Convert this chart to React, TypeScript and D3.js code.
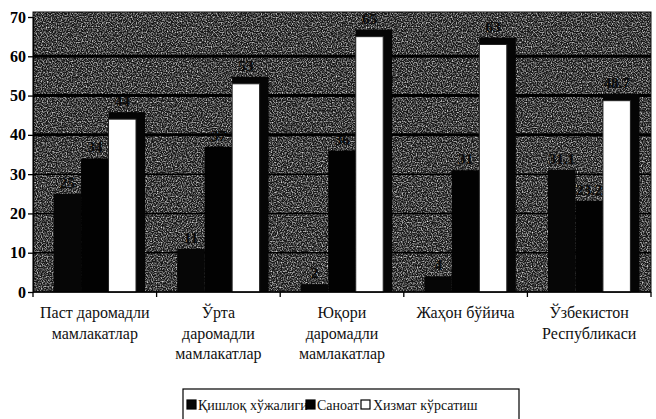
import { useEffect, useRef } from 'react';
import * as d3 from 'd3';

// Categories (each one split into the lines printed under the axis)
const categoryLines: string[][] = [
  ['Паст даромадли', 'мамлакатлар'],
  ['Ўрта', 'даромадли', 'мамлакатлар'],
  ['Юқори', 'даромадли', 'мамлакатлар'],
  ['Жаҳон бўйича'],
  ['Ўзбекистон', 'Республикаси'],
];
const categories = categoryLines.map(l => l.join(' '));

const seriesNames = ['Қишлоқ хўжалиги', 'Саноат', 'Хизмат кўрсатиш'];

// values, per category
const agriculture = [25, 11, 2, 4, 31.1];
const industry = [34, 37, 36, 31, 23.2];
const services = [44, 53, 65, 63, 48.7];

const yTicks = [0, 10, 20, 30, 40, 50, 60, 70];

const serif = '"Liberation Serif", "Times New Roman", "DejaVu Serif", serif';

export default function App() {
  const width = 656;
  const height = 419;
  const marginLeft = 33;
  const marginRight = 5;
  const marginTop = 17;
  const baseline = 292;

  const seriesValues = [agriculture, industry, services];
  const rows = categories.map((c, i) => ({
    name: c,
    values: seriesNames.map((s, j) => ({ key: s, value: seriesValues[j][i] })),
  }));

  const x = d3.scaleBand<string>()
    .domain(categories)
    .range([marginLeft, width - marginRight])
    .paddingInner(0)
    .paddingOuter(0);

  // Excel-ish gap width of 150%: 0.75 bar on each side
  const x1 = d3.scaleBand<string>()
    .domain(seriesNames)
    .range([0, x.bandwidth()])
    .paddingInner(0)
    .paddingOuter(0.75);

  const y = d3.scaleLinear()
    .domain([0, 70])
    .range([baseline, marginTop]);

  const fills = ['#060606', '#020202', '#ffffff'];

  const gy = useRef<SVGGElement>(null);

  useEffect(() => {
    if (gy.current) {
      const g = d3.select(gy.current);
      g.call(d3.axisLeft(y).tickValues(yTicks).tickSize(5).tickSizeOuter(0).tickPadding(2));
      g.select('.domain').attr('stroke', '#000').attr('stroke-width', 1.3);
      g.selectAll('.tick line').attr('stroke', '#000').attr('stroke-width', 1.3);
      g.selectAll('.tick text')
        .attr('fill', '#000')
        .style('font-family', serif)
        .style('font-weight', 'bold')
        .style('font-size', '16px');
    }
  }, [y]);

  const boundaries = [...categories.map(c => x(c)!), x.range()[1]];
  const plotTop = y(70);
  const plotRight = x.range()[1];

  const legendItems = [
    { name: seriesNames[0], sx: 187, tx: 198, fill: fills[0] },
    { name: seriesNames[1], sx: 306, tx: 317, fill: fills[1] },
    { name: seriesNames[2], sx: 361, tx: 373, fill: fills[2] },
  ];

  const textStyle = { fontFamily: serif };

  return (
    <svg
      width={width}
      height={height}
      style={{ position: 'absolute', left: 0, top: 0, background: '#fff', fontFamily: serif }}
    >
      <defs>
        <filter id="speckle" x="0" y="0" width="100%" height="100%">
          <feTurbulence type="fractalNoise" baseFrequency="0.8" numOctaves={1} seed={7} result="n" />
          <feColorMatrix
            in="n"
            type="matrix"
            values="0 0 0 0 1  0 0 0 0 1  0 0 0 0 1  2.2 0 0 0 -0.92"
          />
        </filter>
      </defs>

      {/* dark halftone plot area */}
      <rect x={marginLeft} y={plotTop - 5} width={plotRight - marginLeft} height={baseline - plotTop + 5} fill="#161616" />
      <rect x={marginLeft} y={plotTop - 5} width={plotRight - marginLeft} height={baseline - plotTop + 5} fill="#000" filter="url(#speckle)" />
      <rect x={marginLeft} y={plotTop - 5} width={plotRight - marginLeft} height={baseline - plotTop + 5} fill="none" stroke="#111" strokeWidth={1} />

      {/* gridlines */}
      {yTicks.filter(t => t > 0 && t < 70).map(t => (
        <line key={t} x1={marginLeft} x2={plotRight} y1={y(t)} y2={y(t)} stroke="#000" strokeWidth={t >= 40 ? 3 : 1.5} />
      ))}

      {/* bars */}
      {rows.map(row => (
        <g key={row.name} transform={`translate(${x(row.name)},0)`}>
          {row.values.map((d, j) => {
            const bx = x1(d.key)!;
            const bw = x1.bandwidth();
            return (
              <g key={d.key}>
                {j === 2 ? (
                  <rect x={bx} y={y(d.value) - 7} width={bw + 9} height={baseline - y(d.value) + 7} fill="#050505" />
                ) : null}
                <rect
                  x={bx}
                  y={y(d.value)}
                  width={bw}
                  height={baseline - y(d.value)}
                  fill={fills[j]}
                  stroke={j === 2 ? '#222' : 'none'}
                  strokeWidth={1}
                />
                <text
                  x={bx + bw / 2}
                  y={y(d.value) - (j === 2 ? 13 : 6)}
                  textAnchor="middle"
                  fontSize={15}
                  fontWeight="bold"
                  fill="#0a0a0a"
                  style={textStyle}
                >
                  {d.value}
                </text>
              </g>
            );
          })}
        </g>
      ))}

      {/* x axis */}
      <line x1={marginLeft} x2={plotRight} y1={baseline} y2={baseline} stroke="#000" strokeWidth={1.3} />
      {boundaries.map((bx, i) => (
        <line key={i} x1={bx} x2={bx} y1={baseline} y2={baseline + 5} stroke="#000" strokeWidth={1.3} />
      ))}
      {categories.map((c, i) => (
        <text key={c} x={x(c)! + x.bandwidth() / 2} y={baseline + 26} textAnchor="middle" fontSize={16} fill="#111" style={textStyle}>
          {categoryLines[i].map((line, k) => (
            <tspan key={k} x={x(c)! + x.bandwidth() / 2} dy={k === 0 ? 0 : 20.5}>{line}</tspan>
          ))}
        </text>
      ))}

      <g ref={gy} transform={`translate(${marginLeft},0)`} />

      {/* legend */}
      <rect x={183} y={389} width={336} height={40} fill="#fff" stroke="#000" strokeWidth={1.2} />
      {legendItems.map(item => (
        <g key={item.name}>
          <rect x={item.sx} y={400} width={9} height={9} fill={item.fill} stroke="#000" strokeWidth={1.2} />
          <text x={item.tx} y={410} fontSize={14} fill="#111" style={textStyle}>{item.name}</text>
        </g>
      ))}
    </svg>
  );
}
